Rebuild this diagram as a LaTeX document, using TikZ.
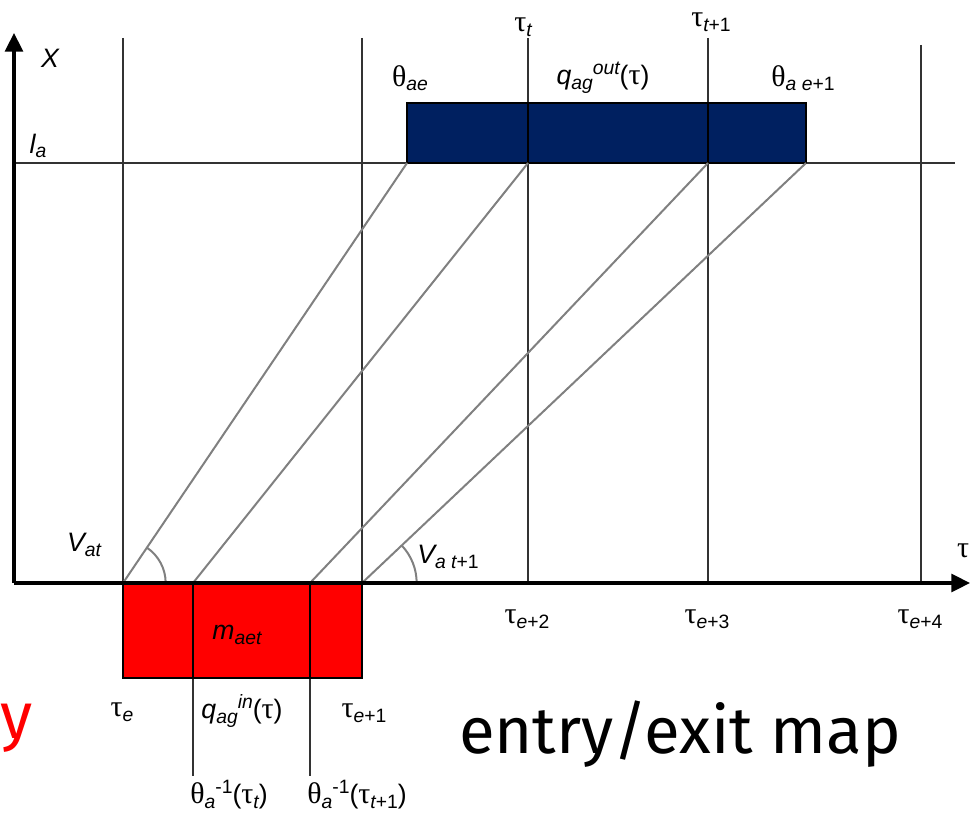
\documentclass[tikz,border=0pt]{standalone}
\usepackage{fontspec}
\setmainfont{Liberation Sans}
\newfontfamily\grkfont[Scale=1.12]{Liberation Serif}
\newfontfamily\talkfont{Fira Sans}
\usepackage{xcolor}
\definecolor{exitblue}{RGB}{0, 32, 96}
\definecolor{entryred}{RGB}{255, 0, 0}
\definecolor{raygray}{RGB}{128, 128, 128}
\usepackage{tikz}
\usetikzlibrary{arrows.meta, angles}
\newcommand{\tu}{{\grkfont τ}}
\newcommand{\tht}{{\grkfont θ}}
\newcommand{\lo}[1]{\raisebox{-3.5pt}{\fontsize{14.5}{16}\selectfont #1}}
\newcommand{\hi}[1]{\raisebox{7.5pt}{\fontsize{14.5}{16}\selectfont #1}}

\begin{document}
\begin{tikzpicture}[x=0.75pt, y=-0.75pt, >={Triangle[length=14pt, width=13.5pt]},
  lbl/.style={font=\fontsize{20}{24}\selectfont, inner sep=0pt},
  grid/.style={line width=0.8pt, black!80},
  ray/.style={line width=1.5pt, raygray},
  cell/.style={line width=1.8pt, black}]
  \useasboundingbox (0,0) rectangle (970,813);
  % axes
  \coordinate (o) at (14,583);
  \coordinate (ytip) at (14,33);
  \coordinate (xtip) at (970,583);
  \coordinate (la0) at (14,163);
  \coordinate (la1) at (955,163);
  \draw[grid] (la0) -- (la1);
  % time grid
  \foreach \n/\xx/\yy in {te/123/38, te1/362/38, te2/528/38, te3/708/38, te4/921/45}{
    \coordinate (\n) at (\xx,583);
    \coordinate (\n top) at (\xx,\yy);
    \draw[grid] (\n top) -- (\n);
  }
  % entry block
  \coordinate (in0) at (193,583);
  \coordinate (in1) at (310,583);
  \coordinate (in0 low) at (193,776);
  \coordinate (in1 low) at (310,776);
  \fill[entryred] (te) rectangle (362,678);
  \draw[grid] (in0) -- (in0 low);
  \draw[grid] (in1) -- (in1 low);
  \draw[cell] (te) rectangle (362,678);
  \draw[cell] (in0) -- (193,678);
  \draw[cell] (in1) -- (310,678);
  % exit block
  \coordinate (out0) at (407,163);
  \coordinate (out1) at (528,163);
  \coordinate (out2) at (708,163);
  \coordinate (out3) at (806,163);
  \fill[exitblue] (407,103) rectangle (out3);
  \draw[cell] (407,103) rectangle (out3);
  \draw[cell] (528,103) -- (out1);
  \draw[cell] (708,103) -- (out2);
  % travel lines
  \draw[ray] (te) -- (out0);
  \draw[ray] (in0) -- (out1);
  \draw[ray] (in1) -- (out2);
  \draw[ray] (te1) -- (out3);
  \pic[draw=raygray, line width=1.5pt, angle radius=32pt] {angle = te1--te--out0};
  \pic[draw=raygray, line width=1.5pt, angle radius=41pt] {angle = te2--te1--out3};
  \draw[line width=2.3pt, ->] (o) -- (ytip);
  \draw[line width=2.3pt, ->] (o) -- (xtip);
  % labels
  \node[lbl] (xlbl) at (50,58) {\itshape X};
  \node[lbl] (lalbl) at (38,146) {\itshape l\lo{a}};
  \node[lbl] (taulbl) at (963,551) {\tu};
  \node[lbl] (thae) at (410,78) {\tht\lo{\itshape ae}};
  \node[lbl] (qout) at (603,78) {\itshape q\lo{ag}\hi{out}\upshape(\tu)};
  \node[lbl] (thae1) at (803,78) {\tht\lo{\itshape a e}\lo{+1}};
  \node[lbl] (tt) at (523,27) {\tu\lo{\itshape t}};
  \node[lbl] (tt1) at (711,22) {\tu\lo{\itshape t}\lo{+1}};
  \node[lbl] (vat) at (84,545) {\itshape V\lo{at}};
  \node[lbl] (vat1) at (448,557) {\itshape V\lo{a t}\lo{\upshape +1}};
  \node[lbl] (maet) at (237,635) {\itshape m\lo{aet}};
  \node[lbl] (tel) at (122,712) {\tu\lo{\itshape e}};
  \node[lbl] (qin) at (242,711) {\itshape q\lo{ag}\hi{in}\upshape(\tu)};
  \node[lbl] (te1l) at (364,713) {\tu\lo{\itshape e}\lo{+1}};
  \node[lbl] (te2l) at (527,619) {\tu\lo{\itshape e}\lo{+2}};
  \node[lbl] (te3l) at (707,619) {\tu\lo{\itshape e}\lo{+3}};
  \node[lbl] (te4l) at (920,619) {\tu\lo{\itshape e}\lo{+4}};
  \node[lbl] (inv0) at (229,795) {\tht\lo{\itshape a}\hi{-1}(\tu\lo{\itshape t})};
  \node[lbl] (inv1) at (357,795) {\tht\lo{\itshape a}\hi{-1}(\tu\lo{\itshape t}\lo{+1})};
  \node[font=\talkfont\fontsize{49}{54}\selectfont, inner sep=0pt, anchor=base] (title) at (680,753) {entry/exit map};
  \node[font=\talkfont\fontsize{49}{54}\selectfont, inner sep=0pt, anchor=base west, text=entryred] (cut) at (0,738) {y};
\end{tikzpicture}
\end{document}
